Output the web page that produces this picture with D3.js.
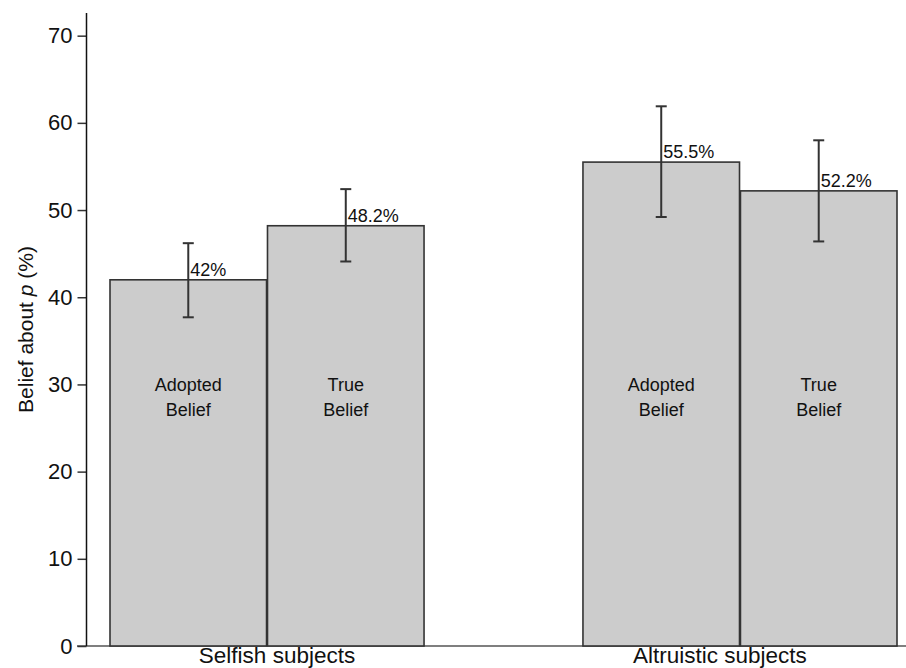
<!DOCTYPE html>
<html>
<head>
<meta charset="utf-8">
<script src="https://cdn.jsdelivr.net/npm/d3@7"></script>
<style>
  html, body { margin: 0; padding: 0; background: #fff; }
  svg { display: block; font-family: "Liberation Sans", Arial, sans-serif; }
</style>
</head>
<body>
<svg id="chart" width="906" height="668"></svg>
<script>
// Subject groups and belief types
const groups = ["Selfish subjects", "Altruistic subjects"];
const beliefs = ["Adopted Belief", "True Belief"];
const beliefLines = [["Adopted", "Belief"], ["True", "Belief"]];

// Mean belief about p (%) per group, in belief order
const selfishMeans = [42.0, 48.2];
const altruisticMeans = [55.5, 52.2];
const meanLabels = [["42%", "48.2%"], ["55.5%", "52.2%"]];

// Error bar bounds (lower, upper)
const selfishLow = [37.7, 44.1];
const selfishHigh = [46.2, 52.4];
const altruisticLow = [49.2, 46.4];
const altruisticHigh = [61.9, 58.0];

const yTicks = [0, 10, 20, 30, 40, 50, 60, 70];

const means = [selfishMeans, altruisticMeans];
const lows = [selfishLow, altruisticLow];
const highs = [selfishHigh, altruisticHigh];

const rows = [];
groups.forEach((g, gi) => {
  beliefs.forEach((b, bi) => {
    rows.push({
      group: g, belief: b, lines: beliefLines[bi],
      value: means[gi][bi], low: lows[gi][bi], high: highs[gi][bi],
      label: meanLabels[gi][bi]
    });
  });
});

const svg = d3.select("#chart");

const y = d3.scaleLinear().domain([0, 72.6]).range([646, 13]);
const x0 = d3.scaleBand().domain(groups).range([110, 897]).paddingInner(0.336).paddingOuter(0);
const x1 = d3.scaleBand().domain(beliefs).range([0, x0.bandwidth()]).paddingInner(0.006);

// Baseline along the bottom
svg.append("line")
  .attr("x1", 77).attr("x2", 906)
  .attr("y1", y(0)).attr("y2", y(0))
  .attr("stroke", "#555").attr("stroke-width", 1.5);

// Bars
const bar = svg.append("g").selectAll("g").data(rows).join("g")
  .attr("transform", d => `translate(${x0(d.group) + x1(d.belief)},0)`);

bar.append("rect")
  .attr("x", 0)
  .attr("width", x1.bandwidth())
  .attr("y", d => y(d.value))
  .attr("height", d => y(0) - y(d.value))
  .attr("fill", "#cccccc")
  .attr("stroke", "#333")
  .attr("stroke-width", 1.6);

// Belief type labels inside bars
bar.each(function (d) {
  const t = d3.select(this).append("text")
    .attr("text-anchor", "middle")
    .attr("font-size", 18)
    .attr("fill", "#111");
  d.lines.forEach((ln, i) => {
    t.append("tspan")
      .attr("x", x1.bandwidth() / 2)
      .attr("y", y(30) + 7 + i * 25)
      .text(ln);
  });
});

// Error bars
const cx = x1.bandwidth() / 2;
const capW = 5.5;
bar.append("line")
  .attr("x1", cx).attr("x2", cx)
  .attr("y1", d => y(d.low)).attr("y2", d => y(d.high))
  .attr("stroke", "#333").attr("stroke-width", 2);
bar.append("line")
  .attr("x1", cx - capW).attr("x2", cx + capW)
  .attr("y1", d => y(d.high)).attr("y2", d => y(d.high))
  .attr("stroke", "#333").attr("stroke-width", 2);
bar.append("line")
  .attr("x1", cx - capW).attr("x2", cx + capW)
  .attr("y1", d => y(d.low)).attr("y2", d => y(d.low))
  .attr("stroke", "#333").attr("stroke-width", 2);

// Value labels
bar.append("text")
  .attr("x", cx + 2)
  .attr("y", d => y(d.value) - 4)
  .attr("font-size", 18)
  .attr("fill", "#111")
  .text(d => d.label);

// Y axis
const yAxis = svg.append("g")
  .attr("transform", "translate(86.5,0)")
  .call(d3.axisLeft(y).tickValues(yTicks).tickSize(9).tickPadding(5));
yAxis.select(".domain").remove();
yAxis.selectAll(".tick line").attr("stroke", "#333").attr("stroke-width", 1.5);
yAxis.selectAll(".tick text")
  .attr("font-size", 22)
  .attr("font-family", "Liberation Sans, Arial, sans-serif")
  .attr("fill", "#111");
svg.append("line")
  .attr("x1", 86.5).attr("x2", 86.5)
  .attr("y1", 13).attr("y2", y(0))
  .attr("stroke", "#111").attr("stroke-width", 1.5);

// Y axis title
const yTitle = svg.append("text")
  .attr("transform", `translate(33,${(y(0) + 13) / 2}) rotate(-90)`)
  .attr("text-anchor", "middle")
  .attr("font-size", 21)
  .attr("fill", "#111");
yTitle.append("tspan").text("Belief about ");
yTitle.append("tspan").attr("font-style", "italic").text("p");
yTitle.append("tspan").text(" (%)");

// Group labels
const groupOffset = { "Selfish subjects": 10, "Altruistic subjects": -20 };
svg.append("g").selectAll("text").data(groups).join("text")
  .attr("x", g => x0(g) + x0.bandwidth() / 2 + groupOffset[g])
  .attr("y", 663)
  .attr("text-anchor", "middle")
  .attr("font-size", 22.5)
  .attr("fill", "#111")
  .text(g => g);
</script>
</body>
</html>
